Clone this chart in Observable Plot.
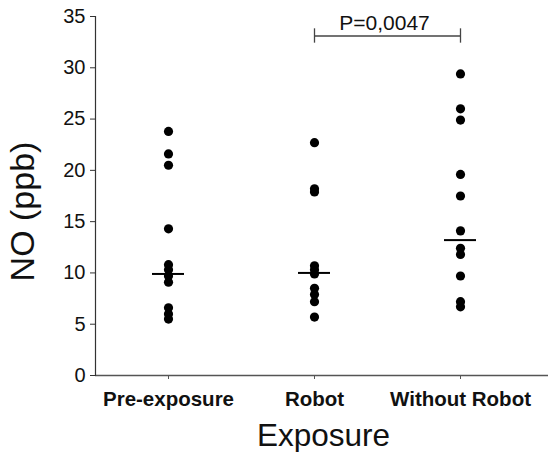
<!DOCTYPE html>
<html>
<head>
<meta charset="utf-8">
<script src="https://cdn.jsdelivr.net/npm/d3@7"></script>
<script src="https://cdn.jsdelivr.net/npm/@observablehq/plot@0.6"></script>
<style>
  html, body { margin: 0; padding: 0; background: #fff; }
  #chart { width: 548px; height: 452px; }
</style>
</head>
<body>
<div id="chart"></div>
<script>
const categories = ["Pre-exposure", "Robot", "Without Robot"];
const preExposure = [23.8, 21.6, 20.5, 14.3, 10.8, 10.3, 9.7, 9.1, 6.6, 6.0, 5.5];
const robot = [22.7, 18.2, 17.9, 10.7, 10.3, 9.9, 8.5, 7.9, 7.2, 5.7];
const withoutRobot = [29.4, 26.0, 24.9, 19.6, 17.5, 14.1, 12.4, 11.8, 9.7, 7.2, 6.7];
const medians = [9.9, 10.0, 13.2];
const yTicks = [0, 5, 10, 15, 20, 25, 30, 35];
const pLabel = "P=0,0047";
const comparison = ["Robot", "Without Robot"];
const bracketLevel = 33.1;
const bracketTickLow = 32.4;
const bracketTickHigh = 33.8;
const yLabel = "NO (ppb)";
const xLabel = "Exposure";

const series = [preExposure, robot, withoutRobot];
const points = series.flatMap((vals, i) => vals.map(v => ({group: categories[i], value: v})));
const medianRows = medians.map((m, i) => ({group: categories[i], value: m}));

const font = "'Liberation Sans', Arial, sans-serif";

const chart = Plot.plot({
  width: 548,
  height: 452,
  marginLeft: 95,
  marginRight: 0,
  marginTop: 16,
  marginBottom: 77,
  style: {fontFamily: font, background: "#fff", color: "#111"},
  x: {type: "point", domain: categories, range: [168, 460], padding: 0},
  y: {domain: [0, 35], range: [375, 16]},
  marks: [
    Plot.axisY({ticks: yTicks, tickSize: 5, tickPadding: 5, label: null, fontSize: 20, stroke: "#333"}),
    Plot.axisX({tickSize: 4, tickPadding: 12, label: null, fontSize: 20.5, fontWeight: "bold", stroke: "#555"}),
    Plot.ruleY([0], {stroke: "#555", strokeWidth: 1.5}),
    Plot.frame({anchor: "left", stroke: "#333", strokeWidth: 1.2}),
    Plot.dot(points, {x: "group", y: "value", r: 4.6, fill: "black", stroke: "none"}),
    Plot.ruleY(medianRows, {x1: "group", x2: "group", y: "value", insetLeft: -16, insetRight: -16, stroke: "black", strokeWidth: 2}),
    Plot.ruleY([bracketLevel], {x1: () => comparison[0], x2: () => comparison[1], stroke: "#444", strokeWidth: 1.3}),
    Plot.ruleX(comparison, {x: d => d, y1: bracketTickLow, y2: bracketTickHigh, stroke: "#444", strokeWidth: 1.3}),
    Plot.text([pLabel], {x: () => comparison[0], y: bracketLevel, dx: 70, dy: -13, text: d => d, fontSize: 21, fill: "#111", textAnchor: "middle"}),
    Plot.text([yLabel], {frameAnchor: "left", textAnchor: "middle", lineAnchor: "middle", dx: -72, dy: 15.5, rotate: -90, text: d => d, fontSize: 34, fill: "#111"}),
    Plot.text([xLabel], {frameAnchor: "bottom", textAnchor: "middle", lineAnchor: "middle", dx: 1.5, dy: 60, text: d => d, fontSize: 31.5, fill: "#111"})
  ]
});
document.getElementById("chart").appendChild(chart);
</script>
</body>
</html>
